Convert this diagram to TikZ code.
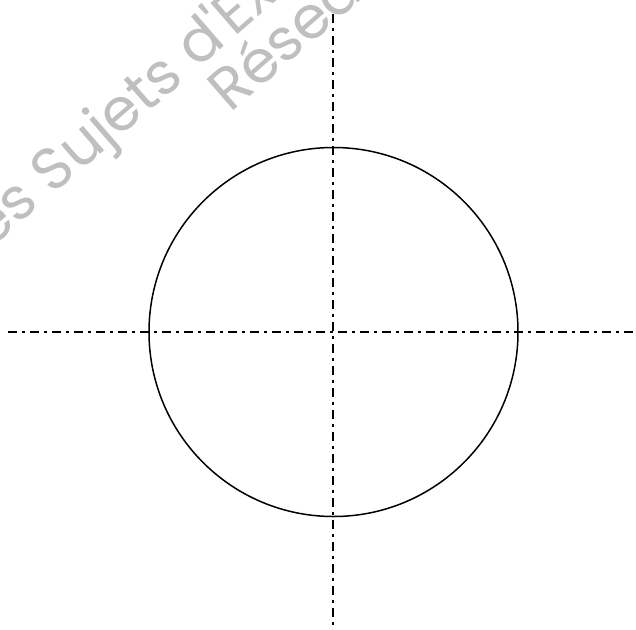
\documentclass[tikz,border=0pt]{standalone}
\usepackage{fontspec}
\newfontfamily\wmfont{Poppins}
\begin{document}
\begin{tikzpicture}[x=1pt,y=-1pt,
  axisline/.style={line width=1.4pt,dash pattern=on 9pt off 5pt on 2.5pt off 5.5pt},
  outline/.style={line width=1.5pt},
  watermark/.style={text=black!25,font=\wmfont\fontsize{59}{66}\selectfont,rotate=41,anchor=base west,inner sep=0pt}]
\useasboundingbox (0,0) rectangle (636,629);
\clip (0,0) rectangle (636,629);
\node[watermark] (wm1) at (-10,250) {es Sujets d'Ex};
\node[watermark] (wm2) at (230,114) {Résea};
\coordinate (c) at (333.5,332);
\draw[axisline] (8,332) -- (633,332);
\draw[axisline] (333,14) -- (333,626);
\draw[outline] (c) circle[radius=184.5];
\end{tikzpicture}
\end{document}
